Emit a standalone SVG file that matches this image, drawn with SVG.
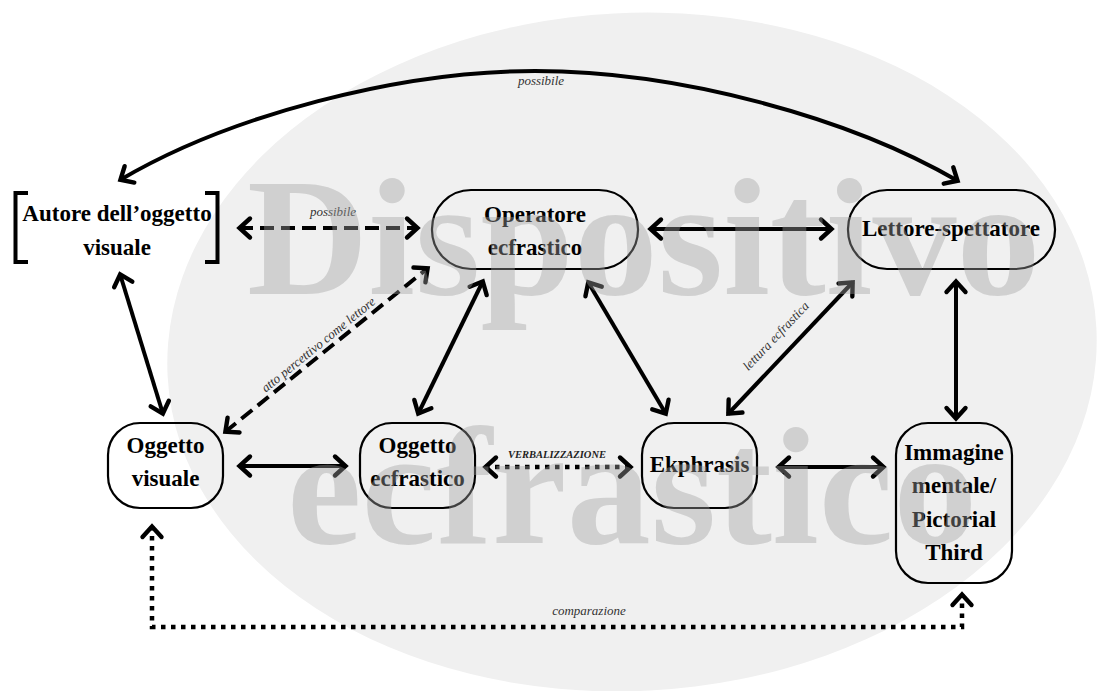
<svg xmlns="http://www.w3.org/2000/svg" width="1098" height="691" viewBox="0 0 1098 691">
<style>
.bg{fill:#f0f0f0}
.box{fill:none;stroke:#000;stroke-width:2.2}
.t{font-family:"Liberation Serif","Times New Roman",serif;font-weight:bold;font-size:23px;fill:#000;text-anchor:middle}
.lbl{font-family:"Liberation Serif","Times New Roman",serif;font-style:italic;font-size:13px;fill:#333;text-anchor:middle}
.c{fill:none;stroke:#000;stroke-width:4;marker-start:url(#ah);marker-end:url(#ah)}
.dash{stroke-dasharray:14 7}
.dot{stroke-dasharray:4.5 5.5;stroke-width:4.5}
.wm{font-family:"Liberation Serif","Times New Roman",serif;font-weight:bold;font-size:168px;fill:#a0a0a0;fill-opacity:0.4}
</style>
<defs>
<marker id="ah" markerUnits="userSpaceOnUse" viewBox="-16 -13 20 26" markerWidth="20" markerHeight="26" refX="0" refY="0" orient="auto-start-reverse">
<path d="M-11,-9.5 L-0.5,0 L-11,9.5" fill="none" stroke="#000" stroke-width="4.4" stroke-linecap="round" stroke-linejoin="miter"/>
</marker>
</defs>
<rect width="1098" height="691" fill="#fff"/>
<ellipse class="bg" cx="632" cy="352" rx="465" ry="339" transform="rotate(-3 632 352)"/>

<g id="connectors">
<path class="c" d="M120,180 C230,115 400,71 535,71 C680,71 850,118 958,181"/>
<text class="lbl" x="541" y="85">possibile</text>
<path class="c dash" d="M239,228 H418"/>
<text class="lbl" x="333" y="216">possibile</text>
<path class="c" d="M650,229 H832"/>
<path class="c" d="M120,274 L163,414"/>
<path class="c dash" d="M225,432 L428,268"/>
<text class="lbl" x="0" y="0" font-size="13.5" transform="translate(321,348) rotate(-39)">atto percettivo come lettore</text>
<path class="c" d="M418,414 L483,281"/>
<path class="c" d="M588,282 L666,414"/>
<path class="c" d="M728,414 L853,282"/>
<text class="lbl" x="0" y="0" transform="translate(779,339) rotate(-46.5)">lettura ecfrastica</text>
<path class="c" d="M956,281 V419"/>
<path class="c" d="M239,466 H346"/>
<path class="c dot" d="M485,467 H631"/>
<text x="557" y="458" font-family="Liberation Serif, Times New Roman, serif" font-style="italic" font-weight="bold" font-size="10.5" fill="#222" text-anchor="middle">VERBALIZZAZIONE</text>
<path class="c" d="M778,467 H884"/>
<path class="c dot" d="M152,526 V627 H962 V594"/>
<text class="lbl" x="589" y="615">comparazione</text>
</g>

<g id="autore">
<path d="M28,193 H15.5 V262 H28" fill="none" stroke="#000" stroke-width="4"/>
<path d="M205,193 H217.5 V262 H205" fill="none" stroke="#000" stroke-width="4"/>
<text class="t" x="117" y="221">Autore dell’oggetto</text>
<text class="t" x="117" y="255">visuale</text>
</g>
<g id="operatore">
<rect class="box" x="432" y="190" width="206" height="79" rx="39"/>
<text class="t" x="535" y="222">Operatore</text>
<text class="t" x="535" y="255">ecfrastico</text>
</g>
<g id="lettore">
<rect class="box" x="848" y="190" width="207" height="79" rx="39"/>
<text class="t" x="951" y="236">Lettore-spettatore</text>
</g>
<g id="oggetto-visuale">
<rect class="box" x="108" y="423" width="115" height="85" rx="32"/>
<text class="t" x="165.5" y="453">Oggetto</text>
<text class="t" x="165.5" y="486">visuale</text>
</g>
<g id="oggetto-ecfrastico">
<rect class="box" x="360" y="423" width="115" height="85" rx="32"/>
<text class="t" x="417.5" y="453">Oggetto</text>
<text class="t" x="417.5" y="486">ecfrastico</text>
</g>
<g id="ekphrasis">
<rect class="box" x="642" y="423" width="115" height="85" rx="32"/>
<text class="t" x="699.5" y="472">Ekphrasis</text>
</g>
<g id="immagine">
<rect class="box" x="896" y="423" width="116" height="160" rx="32"/>
<text class="t" x="954" y="460">Immagine</text>
<text class="t" x="954" y="493">mentale/</text>
<text class="t" x="954" y="527">Pictorial</text>
<text class="t" x="954" y="560">Third</text>
</g>

<g id="watermark">
<text class="wm" x="247" y="294">Dispositivo</text>
<text class="wm" x="287" y="543">ecfrastico</text>
</g>
</svg>
